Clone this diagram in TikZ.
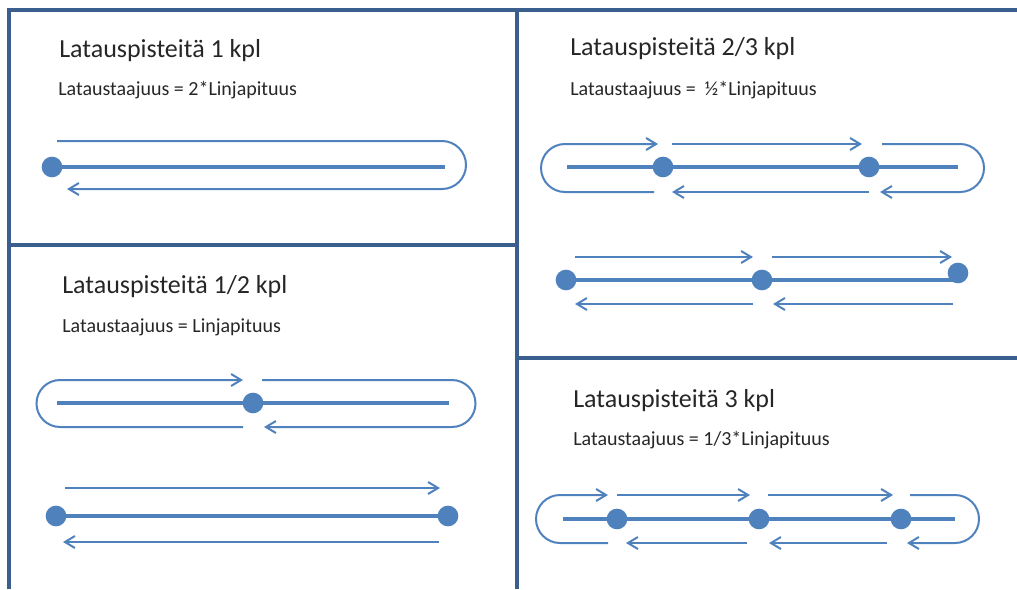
\documentclass[tikz,border=0pt]{standalone}
\usepackage{fontspec}
\setmainfont{Carlito}
\usetikzlibrary{arrows.meta}
\definecolor{lineblue}{HTML}{4F81BD}
\definecolor{frameblue}{HTML}{3A5E8E}
\definecolor{ink}{HTML}{262626}

\begin{document}
\begin{tikzpicture}[x=0.75pt,y=-0.75pt,
  frame/.style={draw=frameblue,line width=2.7pt},
  track/.style={draw=lineblue,line width=3.4pt},
  route/.style={draw=lineblue,line width=1.5pt},
  flow/.style={route,-{Straight Barb[length=7.5pt,width=9pt]}},
  stop/.style={circle,fill=lineblue,inner sep=0pt,minimum size=15.5pt},
  title/.style={anchor=base west,inner sep=0pt,text=ink,font=\fontsize{19.5}{22}\selectfont},
  formula/.style={anchor=base west,inner sep=0pt,text=ink,font=\fontsize{15}{18}\selectfont}]

\useasboundingbox (0,0) rectangle (1017,589);

% panel frames
\draw[frame] (9,589) -- (9,10) -- (1017,10);
\draw[frame] (517,10) -- (517,589);
\draw[frame] (9,245) -- (517,245);
\draw[frame] (517,358) -- (1017,358);

% ---- one charging point
\node[title]   (t1) at (59,57) {Latauspisteitä 1 kpl};
\node[formula] (f1) at (58,95) {Lataustaajuus = 2*Linjapituus};
\coordinate (a1) at (52,167);
\coordinate (a1e) at (445,167);
\draw[track] (a1) -- (a1e);
\node[stop] (s1) at (a1) {};
\coordinate (r1s) at (57,141);
\coordinate (r1t) at (67,189);
\draw[flow] (r1s) -- (442,141) arc[start angle=-90,end angle=90,radius=24] -- (r1t);

% ---- half a point per line, loop
\node[title]   (t2) at (62,293) {Latauspisteitä 1/2 kpl};
\node[formula] (f2) at (62,332) {Lataustaajuus = Linjapituus};
\coordinate (b0) at (57,403);
\coordinate (b1) at (253,403);
\coordinate (b2) at (449,403);
\draw[track] (b0) -- (b2);
\node[stop] (s2) at (b1) {};
\coordinate (r2a) at (262,380);
\coordinate (r2b) at (264,427);
\coordinate (r2c) at (243,427);
\coordinate (r2d) at (243,380);
\draw[flow] (r2a) -- (452,380) arc[start angle=-90,end angle=90,radius=23.5] -- (r2b);
\draw[flow] (r2c) -- (60,427) arc[start angle=90,end angle=270,radius=23.5] -- (r2d);

% ---- half a point per line, shuttle
\coordinate (c0) at (56,516);
\coordinate (c1) at (448,516);
\draw[track] (c0) -- (c1);
\node[stop] (s3) at (c0) {};
\node[stop] (s4) at (c1) {};
\coordinate (r3a) at (65,488);
\coordinate (r3b) at (440,488);
\coordinate (r3c) at (439,542);
\coordinate (r3d) at (63,542);
\draw[flow] (r3a) -- (r3b);
\draw[flow] (r3c) -- (r3d);

% ---- two/three points, loop
\node[title]   (t3) at (570,55) {Latauspisteitä 2/3 kpl};
\node[formula] (f3) at (570,95) {Lataustaajuus =\ \ ½*Linjapituus};
\coordinate (d0) at (567,167);
\coordinate (d1) at (663,167);
\coordinate (d2) at (869,167);
\coordinate (d3) at (958,167);
\draw[track] (d0) -- (d3);
\node[stop] (s5) at (d1) {};
\node[stop] (s6) at (d2) {};
\coordinate (r4a) at (654,192);
\coordinate (r4b) at (658,144);
\coordinate (r4c) at (672,144);
\coordinate (r4d) at (862,144);
\coordinate (r4e) at (882,144);
\coordinate (r4f) at (880,192);
\coordinate (r4g) at (869,192);
\coordinate (r4h) at (672,192);
\draw[flow] (r4a) -- (565,192) arc[start angle=90,end angle=270,radius=24] -- (r4b);
\draw[flow] (r4c) -- (r4d);
\draw[flow] (r4e) -- (960,144) arc[start angle=-90,end angle=90,radius=24] -- (r4f);
\draw[flow] (r4g) -- (r4h);

% ---- two/three points, shuttle
\coordinate (e0) at (566,280);
\coordinate (e1) at (762,280);
\coordinate (e2) at (953,280);
\coordinate (e3) at (958,273);
\draw[track] (e0) -- (e2);
\node[stop] (s7) at (e0) {};
\node[stop] (s8) at (e1) {};
\node[stop] (s9) at (e3) {};
\coordinate (r5a) at (575,257);
\coordinate (r5b) at (753,257);
\coordinate (r5c) at (772,257);
\coordinate (r5d) at (952,257);
\coordinate (r5e) at (753,304);
\coordinate (r5f) at (575,304);
\coordinate (r5g) at (953,304);
\coordinate (r5h) at (773,304);
\draw[flow] (r5a) -- (r5b);
\draw[flow] (r5c) -- (r5d);
\draw[flow] (r5e) -- (r5f);
\draw[flow] (r5g) -- (r5h);

% ---- three points, loop
\node[title]   (t4) at (573,407) {Latauspisteitä 3 kpl};
\node[formula] (f4) at (573,445) {Lataustaajuus = 1/3*Linjapituus};
\coordinate (g0) at (563,519);
\coordinate (g1) at (617,519);
\coordinate (g2) at (759,519);
\coordinate (g3) at (901,519);
\coordinate (g4) at (955,519);
\draw[track] (g0) -- (g4);
\node[stop] (s10) at (g1) {};
\node[stop] (s11) at (g2) {};
\node[stop] (s12) at (g3) {};
\coordinate (r6a) at (608,543);
\coordinate (r6b) at (608,495);
\coordinate (r6c) at (617,495);
\coordinate (r6d) at (750,495);
\coordinate (r6e) at (768,495);
\coordinate (r6f) at (893,495);
\coordinate (r6g) at (910,495);
\coordinate (r6h) at (907,543);
\coordinate (r6i) at (887,543);
\coordinate (r6j) at (769,543);
\coordinate (r6k) at (747,543);
\coordinate (r6l) at (626,543);
\draw[flow] (r6a) -- (560,543) arc[start angle=90,end angle=270,radius=24] -- (r6b);
\draw[flow] (r6c) -- (r6d);
\draw[flow] (r6e) -- (r6f);
\draw[flow] (r6g) -- (955,495) arc[start angle=-90,end angle=90,radius=24] -- (r6h);
\draw[flow] (r6i) -- (r6j);
\draw[flow] (r6k) -- (r6l);

\end{tikzpicture}
\end{document}
